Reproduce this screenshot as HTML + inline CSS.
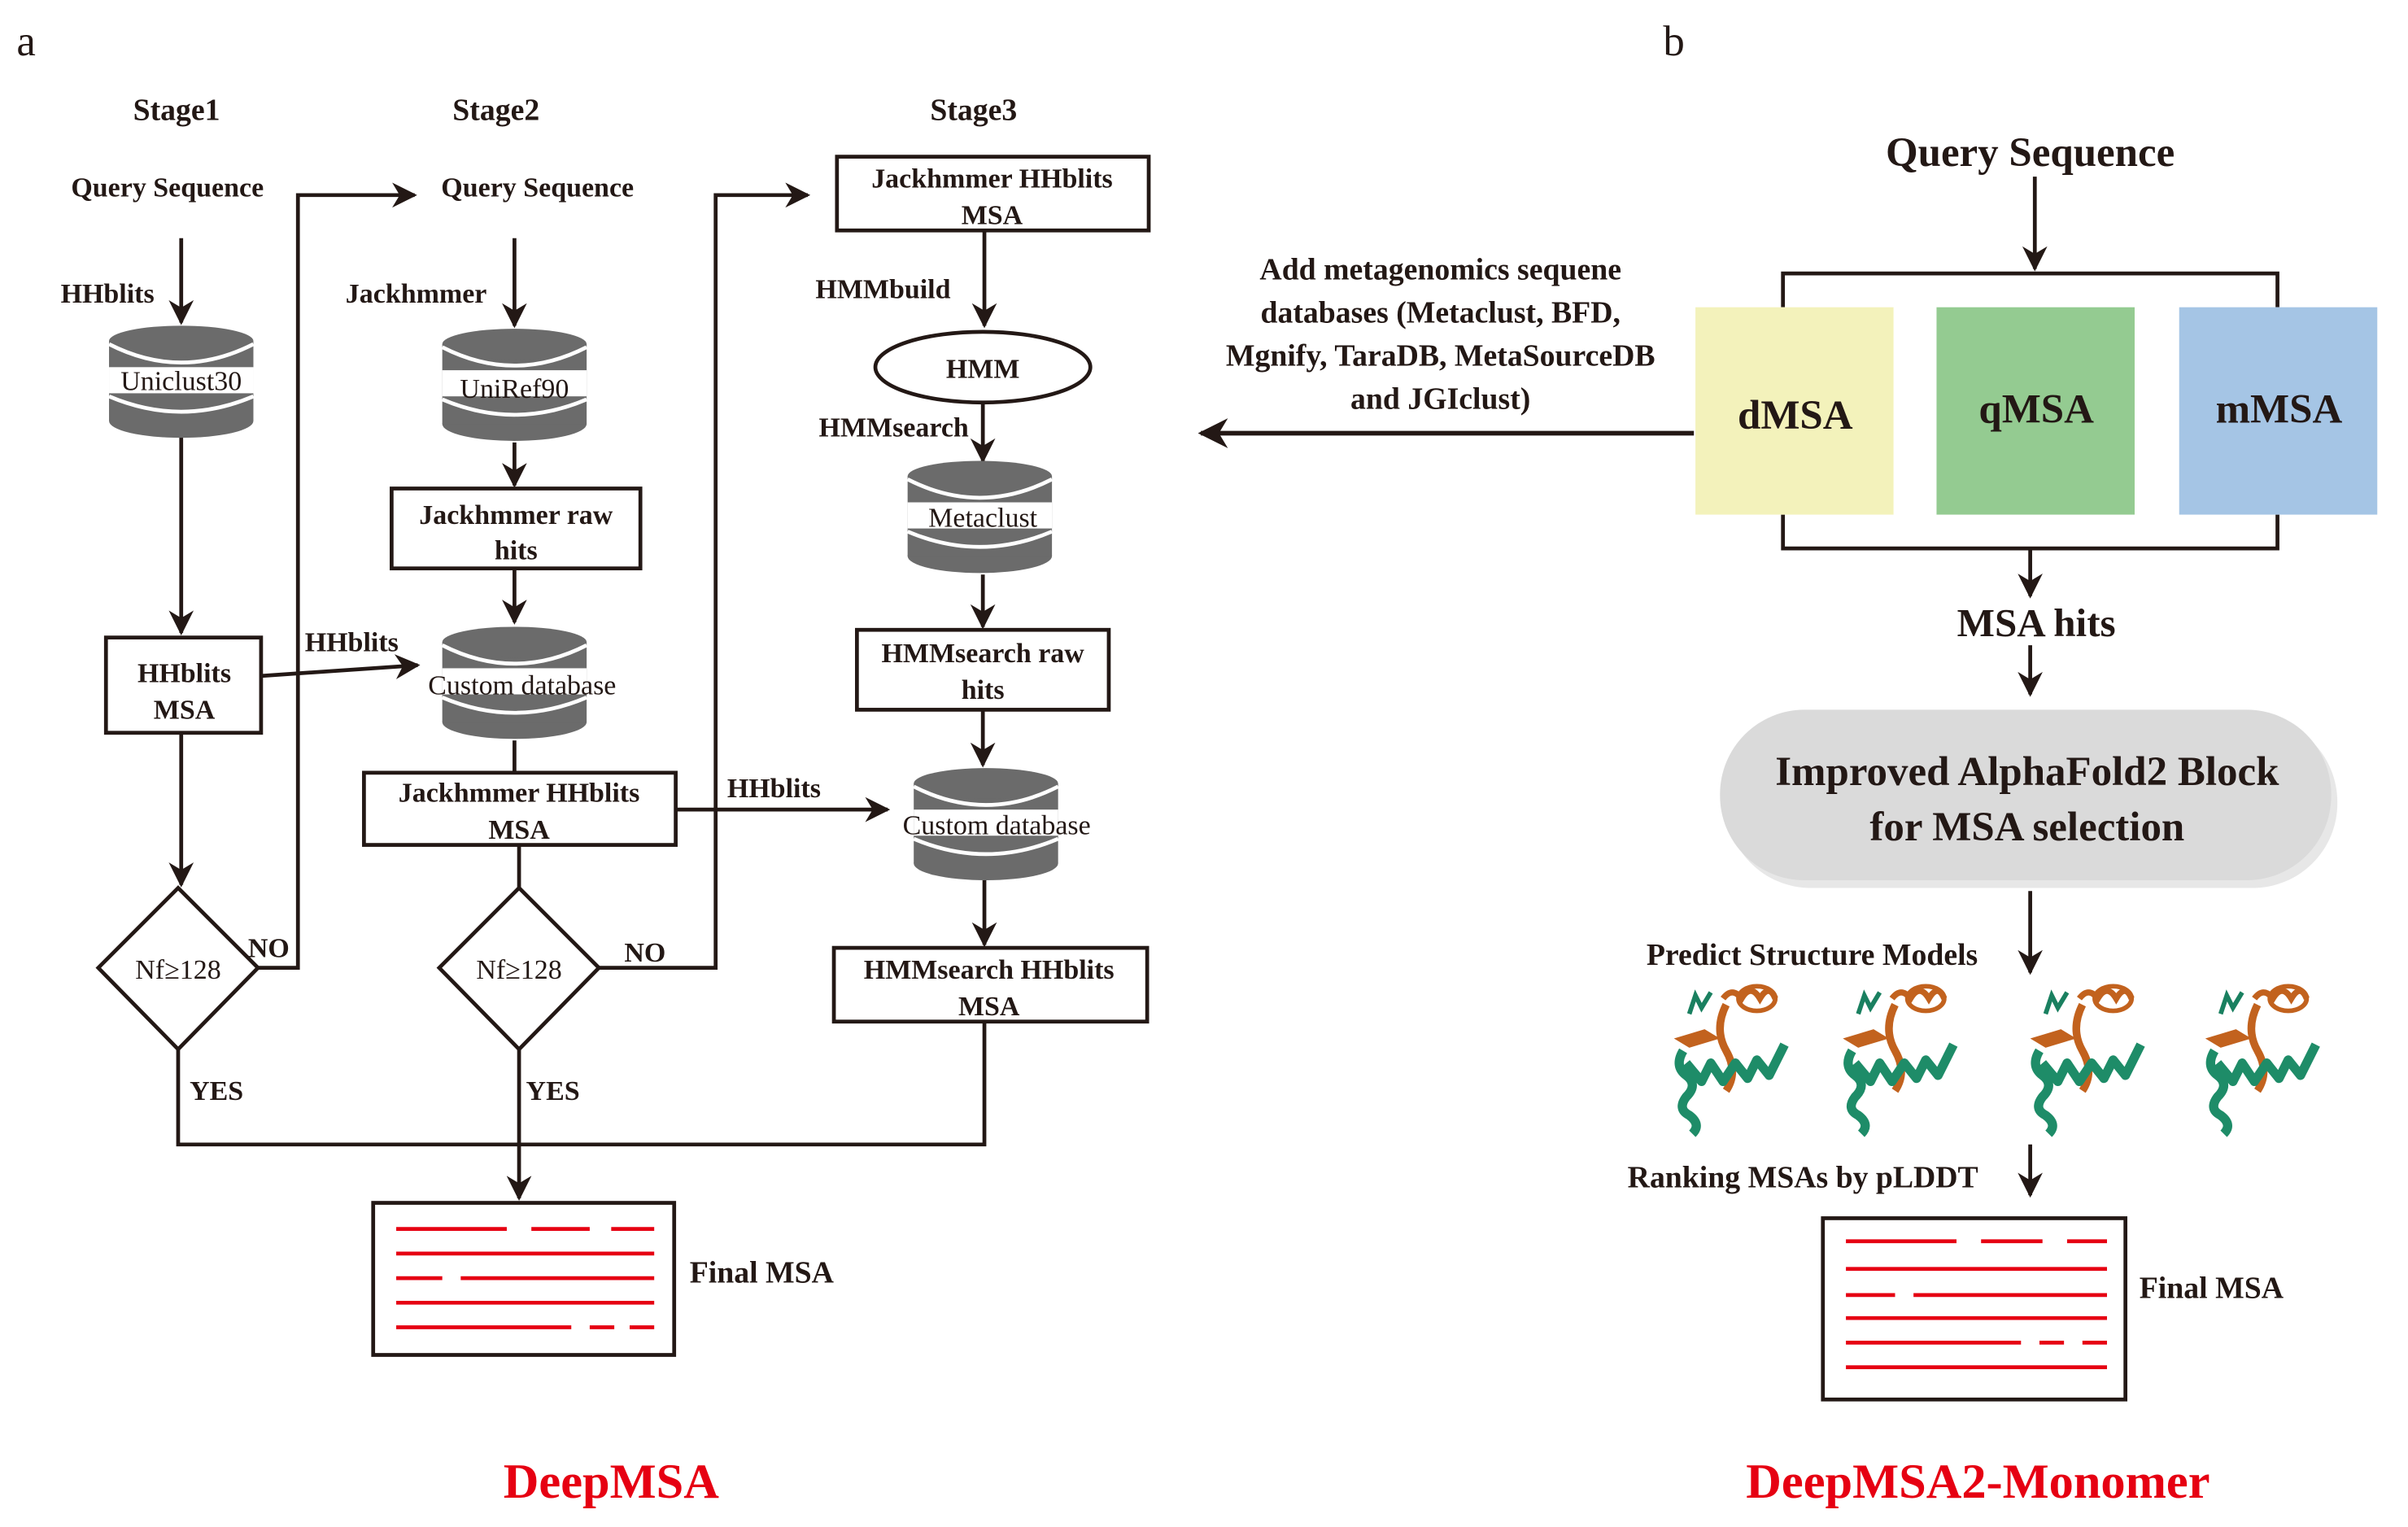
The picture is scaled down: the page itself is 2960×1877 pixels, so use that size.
<!DOCTYPE html>
<html><head><meta charset="utf-8"><style>html,body{margin:0;padding:0;background:#fff}svg{display:block}</style></head><body>
<svg width="2960" height="1877" viewBox="0 0 1568 994" preserveAspectRatio="none" xmlns="http://www.w3.org/2000/svg" font-family="Liberation Serif, serif">
<defs>
<marker id="ah" viewBox="0 0 10 10" refX="9" refY="5" markerWidth="6.5" markerHeight="6.5" orient="auto"><path d="M0,0 L10,5 L0,10 L3,5 z" fill="#231815"/></marker>
<g id="db">
<ellipse cx="0" cy="62" rx="47" ry="11" fill="#6b6b6b"/>
<rect x="-47" y="10" width="94" height="52" fill="#6b6b6b"/>
<ellipse cx="0" cy="10" rx="47" ry="10" fill="#6b6b6b"/>
<path d="M-47,12 Q0,36 47,12" stroke="#fff" stroke-width="2.5" fill="none"/>
<rect x="-47" y="27" width="94" height="17" fill="#fff"/>
<path d="M-47,46 Q0,66 47,46" stroke="#fff" stroke-width="2.5" fill="none"/>
</g>
<g id="prot">
<path d="M-30,-20 L-26,-32 L-22,-24 L-16,-34" stroke="#1a8060" stroke-width="3" fill="none"/>
<path d="M-40,-4 L-20,-10 L-10,-4 L-30,2 z" fill="#c2621e"/>
<path d="M-8,-30 Q-2,-38 4,-30 Q10,-40 16,-30 Q22,-40 26,-30" stroke="#c2621e" stroke-width="4" fill="none"/>
<ellipse cx="14" cy="-30" rx="12" ry="8" stroke="#c2621e" stroke-width="3" fill="none"/>
<path d="M-6,-26 Q-14,-10 -6,4 Q2,18 -6,30" stroke="#c2621e" stroke-width="5" fill="none"/>
<path d="M-34,4 Q-40,14 -32,20 Q-24,26 -32,34 Q-38,42 -30,46 Q-22,52 -28,58" stroke="#1e8c68" stroke-width="6" fill="none"/>
<path d="M-32,12 L-22,24 L-16,12 L-8,24 L0,12 L8,22 L14,10 L22,20 L28,8 L32,0" stroke="#1e8c68" stroke-width="6" fill="none" stroke-linejoin="round"/>
</g>
</defs>
<g fill="#231815" font-weight="bold" font-size="18" text-anchor="middle">
<text x="17" y="36" font-size="28" font-weight="normal">a</text>
<text x="1090" y="36" font-size="28" font-weight="normal">b</text>
<text x="115" y="78" font-size="20">Stage1</text>
<text x="323" y="78" font-size="20">Stage2</text>
<text x="634" y="78" font-size="20">Stage3</text>
<text x="109" y="128">Query Sequence</text>
<text x="350" y="128">Query Sequence</text>
<text x="70" y="197">HHblits</text>
<text x="271" y="197">Jackhmmer</text>
<text x="575" y="194">HMMbuild</text>
<text x="582" y="284">HMMsearch</text>
<text x="229" y="424">HHblits</text>
<text x="504" y="519">HHblits</text>
<text x="175" y="623">NO</text>
<text x="420" y="626">NO</text>
<text x="141" y="716">YES</text>
<text x="360" y="716">YES</text>
<text x="496" y="835" font-size="20">Final MSA</text>
<text x="1440" y="845" font-size="20">Final MSA</text>
</g>
<g stroke="#231815" stroke-width="2.5" fill="none">
<line x1="118" y1="155" x2="118" y2="210" marker-end="url(#ah)"/>
<line x1="118" y1="284" x2="118" y2="412" marker-end="url(#ah)"/>
<line x1="118" y1="477" x2="118" y2="576" marker-end="url(#ah)"/>
<polyline points="168,630 194,630 194,127 270,127" marker-end="url(#ah)"/>
<polyline points="116,683 116,745 641,745 641,665"/>
<line x1="335" y1="155" x2="335" y2="212" marker-end="url(#ah)"/>
<line x1="335" y1="288" x2="335" y2="316" marker-end="url(#ah)"/>
<line x1="335" y1="370" x2="335" y2="405" marker-end="url(#ah)"/>
<line x1="170" y1="440" x2="272" y2="433" marker-end="url(#ah)"/>
<line x1="335" y1="482" x2="335" y2="503"/>
<line x1="338" y1="550" x2="338" y2="578"/>
<polyline points="390,630 466,630 466,127 526,127" marker-end="url(#ah)"/>
<line x1="338" y1="683" x2="338" y2="780" marker-end="url(#ah)"/>
<line x1="440" y1="527" x2="578" y2="527" marker-end="url(#ah)"/>
<line x1="641" y1="150" x2="641" y2="212" marker-end="url(#ah)"/>
<line x1="640" y1="262" x2="640" y2="300" marker-end="url(#ah)"/>
<line x1="640" y1="374" x2="640" y2="408" marker-end="url(#ah)"/>
<line x1="640" y1="462" x2="640" y2="498" marker-end="url(#ah)"/>
<line x1="641" y1="573" x2="641" y2="615" marker-end="url(#ah)"/>
<rect x="69" y="415" width="101" height="62"/>
<rect x="255" y="318" width="162" height="52"/>
<rect x="237" y="503" width="203" height="47"/>
<rect x="545" y="102" width="203" height="48"/>
<rect x="558" y="410" width="164" height="52"/>
<rect x="543" y="617" width="204" height="48"/>
<ellipse cx="640" cy="239" rx="70" ry="23"/>
<polygon points="116,578 168,630 116,683 64,630"/>
<polygon points="338,578 390,630 338,683 286,630"/>
<rect x="243" y="783" width="196" height="99"/>
<rect x="1187" y="793" width="197" height="118"/>
<line x1="1325" y1="115" x2="1325" y2="175" marker-end="url(#ah)"/>
<polyline points="1161,200 1161,178 1483,178 1483,200"/>
<polyline points="1161,335 1161,357 1483,357 1483,335"/>
<line x1="1322" y1="357" x2="1322" y2="388" marker-end="url(#ah)"/>
<line x1="1322" y1="420" x2="1322" y2="452" marker-end="url(#ah)"/>
<line x1="1322" y1="580" x2="1322" y2="633" marker-end="url(#ah)"/>
<line x1="1322" y1="745" x2="1322" y2="778" marker-end="url(#ah)"/>
<line x1="1103" y1="282" x2="782" y2="282" stroke-width="3" marker-end="url(#ah)"/>
</g>
<use href="#db" x="118" y="212"/>
<use href="#db" x="335" y="214"/>
<use href="#db" x="335" y="408"/>
<use href="#db" x="638" y="300"/>
<use href="#db" x="642" y="500"/>
<g fill="#231815" font-size="18" text-anchor="middle">
<text x="118" y="254">Uniclust30</text>
<text x="335" y="259">UniRef90</text>
<text x="340" y="452">Custom database</text>
<text x="640" y="343">Metaclust</text>
<text x="649" y="543">Custom database</text>
</g>
<g fill="#231815" font-weight="bold" font-size="18" text-anchor="middle">
<text x="120" y="444">HHblits</text><text x="120" y="468">MSA</text>
<text x="336" y="341">Jackhmmer raw</text><text x="336" y="364">hits</text>
<text x="338" y="522">Jackhmmer HHblits</text><text x="338" y="546">MSA</text>
<text x="646" y="122">Jackhmmer HHblits</text><text x="646" y="146">MSA</text>
<text x="640" y="246">HMM</text>
<text x="640" y="431">HMMsearch raw</text><text x="640" y="455">hits</text>
<text x="644" y="637">HMMsearch HHblits</text><text x="644" y="661">MSA</text>
<text x="116" y="637" font-weight="normal">Nf≥128</text>
<text x="338" y="637" font-weight="normal">Nf≥128</text>
<text x="938" y="182" font-size="20">Add metagenomics sequene</text>
<text x="938" y="210" font-size="20">databases (Metaclust, BFD,</text>
<text x="938" y="238" font-size="20">Mgnify, TaraDB, MetaSourceDB</text>
<text x="938" y="266" font-size="20">and JGIclust)</text>
<text x="1322" y="108" font-size="27">Query Sequence</text>
<text x="1326" y="414" font-size="26">MSA hits</text>
<text x="1180" y="628" font-size="20">Predict Structure Models</text>
<text x="1174" y="773" font-size="20">Ranking MSAs by pLDDT</text>
<text x="398" y="975" font-size="32" fill="#e60012">DeepMSA</text>
<text x="1288" y="975" font-size="32" fill="#e60012">DeepMSA2-Monomer</text>
</g>
<rect x="1104" y="200" width="129" height="135" fill="#f3f2bb"/>
<rect x="1261" y="200" width="129" height="135" fill="#94cb91"/>
<rect x="1419" y="200" width="129" height="135" fill="#a5c5e5"/>
<g fill="#231815" font-weight="bold" font-size="27" text-anchor="middle">
<text x="1169" y="279">dMSA</text>
<text x="1326" y="275">qMSA</text>
<text x="1484" y="275">mMSA</text>
</g>
<rect x="1124" y="467" width="398" height="111" rx="55" fill="#cfcfcf" opacity="0.5"/>
<rect x="1120" y="462" width="398" height="111" rx="55" fill="#dadada"/>
<g fill="#231815" font-weight="bold" font-size="27" text-anchor="middle">
<text x="1320" y="511">Improved AlphaFold2 Block</text>
<text x="1320" y="547">for MSA selection</text>
</g>
<use href="#prot" x="1130" y="680"/>
<use href="#prot" x="1240" y="680"/>
<use href="#prot" x="1362" y="680"/>
<use href="#prot" x="1476" y="680"/>
<g stroke="#e60012" stroke-width="2.5">
<line x1="258" y1="800" x2="330" y2="800"/><line x1="346" y1="800" x2="384" y2="800"/><line x1="398" y1="800" x2="426" y2="800"/>
<line x1="258" y1="816" x2="426" y2="816"/>
<line x1="258" y1="832" x2="288" y2="832"/><line x1="300" y1="832" x2="426" y2="832"/>
<line x1="258" y1="848" x2="426" y2="848"/>
<line x1="258" y1="864" x2="372" y2="864"/><line x1="384" y1="864" x2="400" y2="864"/><line x1="410" y1="864" x2="426" y2="864"/>
<line x1="1202" y1="808" x2="1274" y2="808"/><line x1="1290" y1="808" x2="1330" y2="808"/><line x1="1346" y1="808" x2="1372" y2="808"/>
<line x1="1202" y1="826" x2="1372" y2="826"/>
<line x1="1202" y1="843" x2="1234" y2="843"/><line x1="1246" y1="843" x2="1372" y2="843"/>
<line x1="1202" y1="858" x2="1372" y2="858"/>
<line x1="1202" y1="874" x2="1316" y2="874"/><line x1="1328" y1="874" x2="1344" y2="874"/><line x1="1356" y1="874" x2="1372" y2="874"/>
<line x1="1202" y1="890" x2="1372" y2="890"/>
</g>
</svg>
</body></html>
